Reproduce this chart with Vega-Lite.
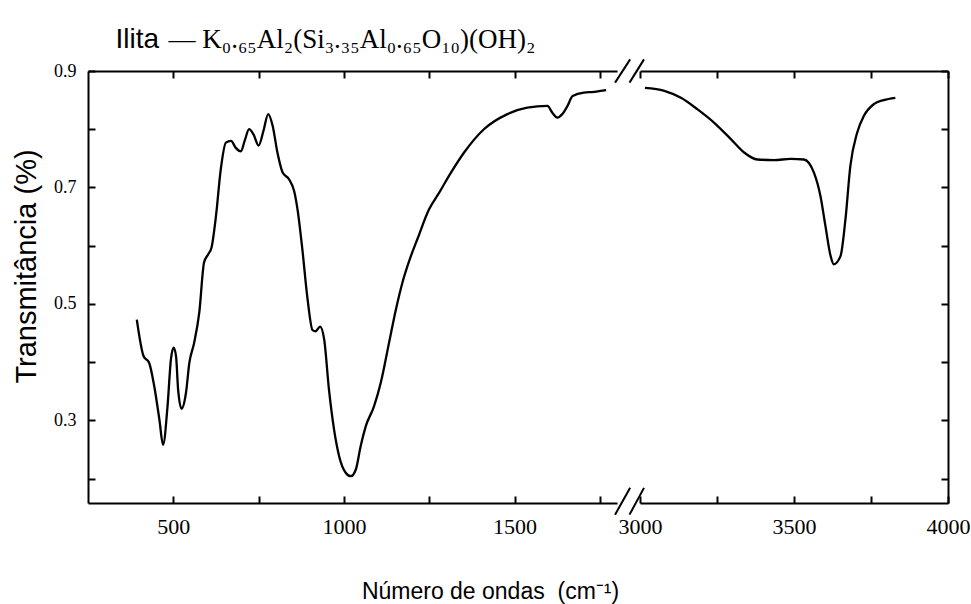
{
  "$schema": "https://vega.github.io/schema/vega-lite/v6.json",
  "background": "white",
  "padding": {"left": 12, "top": 25, "right": 10, "bottom": 5},
  "spacing": 23,
  "bounds": "flush",
  "datasets": {
    "ftir": [
      {"wn": 393, "t": 0.473}, {"wn": 413, "t": 0.410}, {"wn": 429, "t": 0.399}, {"wn": 444, "t": 0.359},
      {"wn": 459, "t": 0.302}, {"wn": 470, "t": 0.258}, {"wn": 483, "t": 0.324}, {"wn": 493, "t": 0.405},
      {"wn": 501, "t": 0.425}, {"wn": 508, "t": 0.410}, {"wn": 514, "t": 0.353}, {"wn": 524, "t": 0.320},
      {"wn": 537, "t": 0.347}, {"wn": 547, "t": 0.399}, {"wn": 561, "t": 0.433}, {"wn": 576, "t": 0.485},
      {"wn": 590, "t": 0.571}, {"wn": 602, "t": 0.585}, {"wn": 612, "t": 0.597}, {"wn": 625, "t": 0.651},
      {"wn": 639, "t": 0.731}, {"wn": 654, "t": 0.777}, {"wn": 669, "t": 0.780}, {"wn": 683, "t": 0.768},
      {"wn": 698, "t": 0.762}, {"wn": 709, "t": 0.780}, {"wn": 722, "t": 0.800}, {"wn": 735, "t": 0.791},
      {"wn": 750, "t": 0.772}, {"wn": 764, "t": 0.797}, {"wn": 778, "t": 0.826}, {"wn": 791, "t": 0.806},
      {"wn": 805, "t": 0.760}, {"wn": 820, "t": 0.726}, {"wn": 839, "t": 0.714}, {"wn": 854, "t": 0.694},
      {"wn": 864, "t": 0.662}, {"wn": 878, "t": 0.594}, {"wn": 893, "t": 0.510}, {"wn": 908, "t": 0.455},
      {"wn": 917, "t": 0.453}, {"wn": 930, "t": 0.461}, {"wn": 942, "t": 0.439}, {"wn": 956, "t": 0.353},
      {"wn": 971, "t": 0.284}, {"wn": 986, "t": 0.238}, {"wn": 1005, "t": 0.210}, {"wn": 1020, "t": 0.204},
      {"wn": 1035, "t": 0.216}, {"wn": 1049, "t": 0.256}, {"wn": 1064, "t": 0.290}, {"wn": 1088, "t": 0.324},
      {"wn": 1108, "t": 0.365}, {"wn": 1132, "t": 0.433}, {"wn": 1152, "t": 0.490}, {"wn": 1171, "t": 0.536},
      {"wn": 1196, "t": 0.582}, {"wn": 1215, "t": 0.611}, {"wn": 1249, "t": 0.662}, {"wn": 1279, "t": 0.691},
      {"wn": 1313, "t": 0.725}, {"wn": 1352, "t": 0.760}, {"wn": 1410, "t": 0.800}, {"wn": 1479, "t": 0.826},
      {"wn": 1537, "t": 0.837}, {"wn": 1596, "t": 0.840}, {"wn": 1611, "t": 0.828}, {"wn": 1625, "t": 0.820},
      {"wn": 1640, "t": 0.826}, {"wn": 1655, "t": 0.840}, {"wn": 1670, "t": 0.857}, {"wn": 1703, "t": 0.863},
      {"wn": 1733, "t": 0.864}, {"wn": 1768, "t": 0.867},
      {"wn": 3016, "t": 0.871}, {"wn": 3079, "t": 0.866}, {"wn": 3133, "t": 0.854}, {"wn": 3187, "t": 0.834},
      {"wn": 3241, "t": 0.811}, {"wn": 3295, "t": 0.783}, {"wn": 3338, "t": 0.760}, {"wn": 3381, "t": 0.748},
      {"wn": 3435, "t": 0.747}, {"wn": 3489, "t": 0.749}, {"wn": 3532, "t": 0.748}, {"wn": 3565, "t": 0.725},
      {"wn": 3586, "t": 0.685}, {"wn": 3602, "t": 0.634}, {"wn": 3619, "t": 0.582}, {"wn": 3629, "t": 0.568},
      {"wn": 3651, "t": 0.582}, {"wn": 3667, "t": 0.645}, {"wn": 3683, "t": 0.737}, {"wn": 3705, "t": 0.794},
      {"wn": 3727, "t": 0.823}, {"wn": 3759, "t": 0.843}, {"wn": 3791, "t": 0.850}, {"wn": 3829, "t": 0.854}
    ],
    "one": [{"k": 1}]
  },
  "hconcat": [
    {
      "width": 529,
      "height": 432,
      "data": {"name": "ftir"},
      "transform": [{"filter": "datum.wn < 2000"}],
      "resolve": {"axis": {"x": "independent", "y": "independent"}},
      "layer": [
        {
          "mark": {"type": "line", "color": "black", "strokeWidth": 2.3, "interpolate": "monotone"},
          "encoding": {
            "x": {
              "field": "wn", "type": "quantitative",
              "scale": {"domain": [250, 1800], "nice": false, "zero": false},
              "axis": {
                "orient": "bottom",
                "values": [500, 750, 1000, 1250, 1500, 1750],
                "format": "d",
                "labelExpr": "datum.value % 500 === 0 ? datum.label : ''",
                "labelFlush": false,
                "tickSize": -7,
                "labelPadding": 20,
                "labelFont": "Liberation Serif",
                "labelFontSize": 22,
                "title": "Número de ondas\u00a0 (cm⁻¹)",
                "titleFont": "Liberation Sans",
                "titleFontSize": 23,
                "titleFontWeight": "normal",
                "titleX": 402,
                "titleY": 95,
                "titleAlign": "center",
                "titleBaseline": "alphabetic"
              }
            },
            "y": {
              "field": "t", "type": "quantitative",
              "scale": {"domain": [0.158, 0.9], "nice": false, "zero": false},
              "axis": {
                "orient": "left",
                "values": [0.2, 0.3, 0.4, 0.5, 0.6, 0.7, 0.8, 0.9],
                "labelExpr": "indexof([0.3, 0.5, 0.7, 0.9], datum.value) >= 0 ? format(datum.value, '.1f') : ''",
                "tickSize": -7,
                "labelPadding": 19,
                "labelFont": "Liberation Serif",
                "labelFontSize": 18,
                "title": "Transmitância (%)",
                "titleFont": "Liberation Sans",
                "titleFontSize": 29,
                "titleFontWeight": "normal",
                "titleAngle": 270,
                "titleX": -53,
                "titleY": 195,
                "titleAlign": "center",
                "titleBaseline": "alphabetic"
              }
            }
          }
        },
        {
          "mark": {"type": "line", "strokeOpacity": 0},
          "encoding": {
            "x": {
              "field": "wn", "type": "quantitative",
              "axis": {
                "orient": "top",
                "values": [500, 750, 1000, 1250, 1500, 1750],
                "labels": false,
                "tickSize": -7,
                "title": "Ilita",
                "titleFont": "Liberation Sans",
                "titleFontSize": 28,
                "titleFontWeight": "normal",
                "titleX": 27,
                "titleY": -24,
                "titleAlign": "left",
                "titleBaseline": "alphabetic"
              }
            },
            "y": {"field": "t", "type": "quantitative", "axis": null}
          }
        }
      ]
    },
    {
      "width": 308,
      "height": 432,
      "data": {"name": "ftir"},
      "transform": [{"filter": "datum.wn > 2000"}],
      "resolve": {"axis": {"x": "independent", "y": "independent"}},
      "layer": [
        {
          "mark": {"type": "line", "color": "black", "strokeWidth": 2.3, "interpolate": "monotone"},
          "encoding": {
            "x": {
              "field": "wn", "type": "quantitative",
              "scale": {"domain": [3000, 4000], "nice": false, "zero": false},
              "axis": {
                "orient": "bottom",
                "values": [3000, 3250, 3500, 3750, 4000],
                "format": "d",
                "labelExpr": "datum.value % 500 === 0 ? datum.label : ''",
                "labelFlush": false,
                "tickSize": -7,
                "labelPadding": 20,
                "labelFont": "Liberation Serif",
                "labelFontSize": 22,
                "title": null
              }
            },
            "y": {
              "field": "t", "type": "quantitative",
              "scale": {"domain": [0.158, 0.9], "nice": false, "zero": false},
              "axis": {
                "orient": "right",
                "values": [0.2, 0.3, 0.4, 0.5, 0.6, 0.7, 0.8, 0.9],
                "labels": false,
                "tickSize": -7,
                "title": null
              }
            }
          }
        },
        {
          "mark": {"type": "line", "strokeOpacity": 0},
          "encoding": {
            "x": {
              "field": "wn", "type": "quantitative",
              "axis": {
                "orient": "top",
                "values": [3000, 3250, 3500, 3750, 4000],
                "labels": false,
                "tickSize": -7,
                "title": "— K₀.₆₅Al₂(Si₃.₃₅Al₀.₆₅O₁₀)(OH)₂",
                "titleFont": "Liberation Serif",
                "titleFontSize": 27,
                "titleFontWeight": "normal",
                "titleX": -472,
                "titleY": -24,
                "titleAlign": "left",
                "titleBaseline": "alphabetic"
              }
            },
            "y": {"field": "t", "type": "quantitative", "axis": null}
          }
        },
        {
          "data": {"name": "one"},
          "mark": {"type": "rule", "color": "black", "strokeWidth": 2},
          "encoding": {
            "x": {"datum": 2919, "type": "quantitative", "axis": null},
            "x2": {"datum": 2968},
            "y": {"datum": 0.138, "type": "quantitative", "axis": null},
            "y2": {"datum": 0.184}
          }
        },
        {
          "data": {"name": "one"},
          "mark": {"type": "rule", "color": "black", "strokeWidth": 2},
          "encoding": {
            "x": {"datum": 2966, "type": "quantitative", "axis": null},
            "x2": {"datum": 3013},
            "y": {"datum": 0.138, "type": "quantitative", "axis": null},
            "y2": {"datum": 0.184}
          }
        },
        {
          "data": {"name": "one"},
          "mark": {"type": "rule", "color": "black", "strokeWidth": 2},
          "encoding": {
            "x": {"datum": 2919, "type": "quantitative", "axis": null},
            "x2": {"datum": 2968},
            "y": {"datum": 0.880, "type": "quantitative", "axis": null},
            "y2": {"datum": 0.920}
          }
        },
        {
          "data": {"name": "one"},
          "mark": {"type": "rule", "color": "black", "strokeWidth": 2},
          "encoding": {
            "x": {"datum": 2966, "type": "quantitative", "axis": null},
            "x2": {"datum": 3013},
            "y": {"datum": 0.880, "type": "quantitative", "axis": null},
            "y2": {"datum": 0.920}
          }
        }
      ]
    }
  ],
  "config": {
    "view": {"stroke": null},
    "axis": {
      "grid": false,
      "domainColor": "black",
      "domainWidth": 2,
      "tickColor": "black",
      "tickWidth": 2,
      "labelColor": "black",
      "titleColor": "black"
    }
  }
}
